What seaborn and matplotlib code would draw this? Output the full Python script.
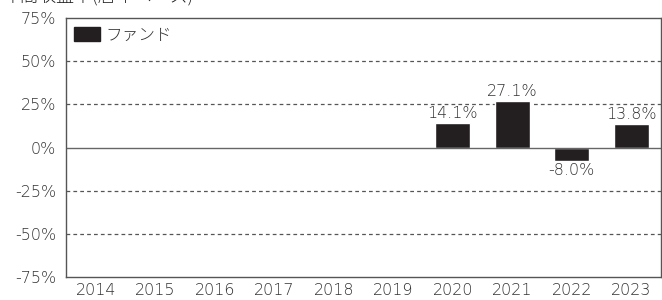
import numpy as np
import pandas as pd
import matplotlib
matplotlib.use('Agg')
import matplotlib.pyplot as plt
import seaborn as sns
from matplotlib.patches import Patch

# data
years = ['2014', '2015', '2016', '2017', '2018', '2019', '2020', '2021', '2022', '2023']
fund_returns = [np.nan, np.nan, np.nan, np.nan, np.nan, np.nan, 14.1, 27.1, -8.0, 13.8]
y_ticks = [75, 50, 25, 0, -25, -50, -75]

df = pd.DataFrame({'year': years, 'ret': fund_returns})

sns.set_style('white')
plt.rcParams['font.family'] = ['DejaVu Sans', 'Noto Sans CJK JP']
plt.rcParams['font.weight'] = 'light'

bar_color = '#231f20'
text_color = '#333333'
fs = 11.5

fig = plt.figure(figsize=(6.62, 3.0), dpi=100)
ax = fig.add_axes([66 / 662, 23 / 300, 595 / 662, 259 / 300])

sns.barplot(data=df, x='year', y='ret', color=bar_color, width=0.58,
            saturation=1, ax=ax)

ax.set_ylim(-75, 75)
ax.set_xlim(-0.5, len(years) - 0.5)
ax.set_yticks(y_ticks)
ax.set_yticklabels([f'{v}%' for v in y_ticks])
ax.set_xlabel('')
ax.set_ylabel('')

# gridlines
for v in y_ticks:
    if v == 0:
        ax.axhline(0, color='#666666', lw=1.0, zorder=1)
    elif abs(v) != 75:
        ax.axhline(v, color='#555555', lw=0.9, ls=(0, (3, 2.5)), zorder=0)

for sp in ax.spines.values():
    sp.set_color('#555555')
    sp.set_linewidth(1.0)

ax.tick_params(axis='both', length=0, colors=text_color, labelsize=fs)
ax.tick_params(axis='x', pad=4)
ax.tick_params(axis='y', pad=7)

# value labels
for i, v in enumerate(fund_returns):
    if np.isnan(v):
        continue
    if v >= 0:
        ax.text(i, v + 1.0, f'{v:.1f}%', ha='center', va='bottom', fontsize=fs, color=text_color)
    else:
        ax.text(i, v - 1.0, f'{v:.1f}%', ha='center', va='top', fontsize=fs, color=text_color)

handles = [Patch(facecolor=bar_color, edgecolor=bar_color, label='ファンド')]
leg = ax.legend(handles=handles, loc='upper left', frameon=False, fontsize=11,
                handlelength=1.7, handleheight=1.0, handletextpad=0.3,
                borderaxespad=0.15, labelcolor=text_color)
for t in leg.get_texts():
    t.set_family(['Noto Sans CJK JP', 'DejaVu Sans'])
    t.set_fontsize(12)

# chart title, cut off at the top edge as in the source image
fig.text(0.003, 1.012, '年間収益率(暦年ベース)', ha='left', va='center', fontsize=13,
         color='#222222', family=['Noto Sans CJK JP', 'DejaVu Sans'])

fig.savefig('out.png', dpi=100)
